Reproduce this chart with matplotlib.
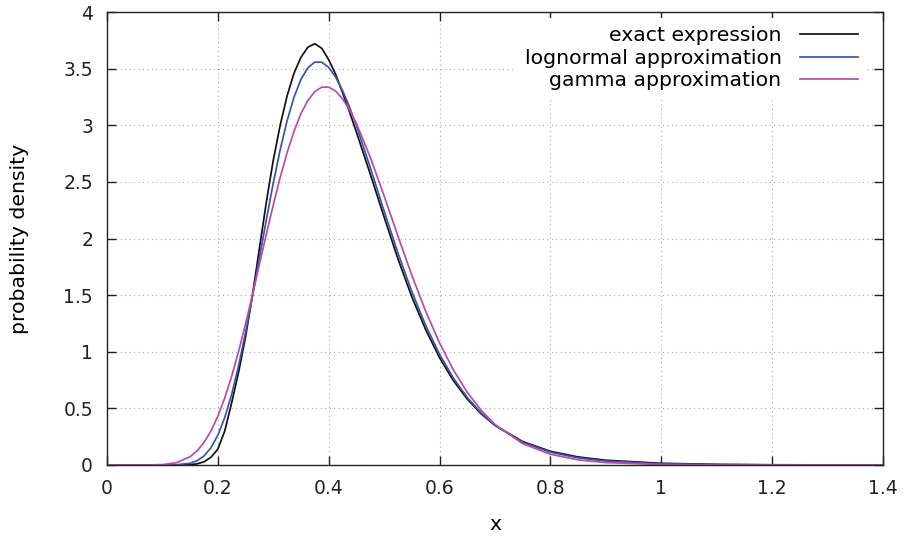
import matplotlib
matplotlib.use("Agg")
import matplotlib.pyplot as plt
from matplotlib.ticker import FormatStrFormatter, MultipleLocator


x = [0, 0.05, 0.075, 0.1, 0.125, 0.15, 0.1625, 0.175, 0.1875, 0.2, 0.2125, 0.225,
     0.2375, 0.25, 0.2625, 0.275, 0.2875, 0.3, 0.3125, 0.325, 0.3375, 0.35, 0.3625,
     0.375, 0.3875, 0.4, 0.4125, 0.425, 0.4375, 0.45, 0.475, 0.5, 0.525, 0.55, 0.575,
     0.6, 0.625, 0.65, 0.675, 0.7, 0.75, 0.8, 0.85, 0.9, 1.0, 1.1, 1.2, 1.3, 1.4]

exact = [0, 0, 0, 0, 0.0002, 0.003, 0.010, 0.028, 0.068, 0.14, 0.30, 0.55,
         0.82, 1.13, 1.50, 1.91, 2.32, 2.69, 3.00, 3.26, 3.46, 3.60, 3.69,
         3.72, 3.68, 3.58, 3.45, 3.29, 3.12, 2.94, 2.57, 2.19, 1.82, 1.485, 1.195,
         0.948, 0.745, 0.582, 0.452, 0.350, 0.207, 0.121, 0.071, 0.042, 0.015, 0.0055, 0.002, 0.0008, 0.0003]

lognormal = [0, 0, 0, 0.0001, 0.0015, 0.0153, 0.0374, 0.0797, 0.1518, 0.2627, 0.4190, 0.6238,
             0.8764, 1.1685, 1.4901, 1.827, 2.1651, 2.488, 2.7835, 3.040, 3.2484, 3.405, 3.508,
             3.558, 3.557, 3.511, 3.426, 3.307, 3.162, 2.9965, 2.628, 2.243, 1.872, 1.531, 1.233,
             0.978, 0.7675, 0.596, 0.4587, 0.3505, 0.2009, 0.1131, 0.0629, 0.0347, 0.0104, 0.0031, 0.0009, 0.0003, 0.0001]

gamma = [0, 0, 0.0003, 0.0034, 0.0196, 0.0728, 0.1242, 0.1983, 0.2992, 0.4300, 0.5917, 0.7836,
         1.0031, 1.2448, 1.5031, 1.7702, 2.0371, 2.2958, 2.5390, 2.7580, 2.9470, 3.1021, 3.2194,
         3.2976, 3.3362, 3.3369, 3.3017, 3.2341, 3.1373, 3.0163, 2.7188, 2.3767, 2.0211, 1.6760, 1.3584,
         1.0782, 0.8396, 0.6423, 0.4833, 0.3583, 0.1889, 0.0948, 0.0456, 0.0211, 0.0041, 0.0007, 0.0001, 0, 0]

labels = ["exact expression", "lognormal approximation", "gamma approximation"]
colors = ["#111111", "#3656ae", "#bd4aa6"]

plt.rcParams["font.family"] = "DejaVu Sans"
plt.rcParams["font.size"] = 14.7

fig = plt.figure(figsize=(9.08, 5.39), dpi=100)
ax = fig.add_axes([0.1178, 0.1373, 0.8546, 0.8404])

for ys, lab, col in zip([exact, lognormal, gamma], labels, colors):
    ax.plot(x, ys, color=col, lw=1.25, label=lab)

ax.set_xlim(0, 1.4)
ax.set_ylim(0, 4)
ax.xaxis.set_major_locator(MultipleLocator(0.2))
ax.yaxis.set_major_locator(MultipleLocator(0.5))
ax.xaxis.set_major_formatter(FormatStrFormatter("%g"))
ax.yaxis.set_major_formatter(FormatStrFormatter("%g"))

# gnuplot look: inward ticks on every side, dotted grey grid
ax.tick_params(direction="in", length=6.5, width=1, top=True, right=True, pad=10,
               labelsize=13.5, colors="#222222")
ax.grid(True, color="#999999", lw=0.8, linestyle=(0, (0.8, 3.2)))
for s in ax.spines.values():
    s.set_linewidth(1)
    s.set_color("#222222")

ax.set_xlabel("x", labelpad=12.5)
ax.set_ylabel("probability density", labelpad=25)

# legend: text right-aligned, sample line after the text, grid hidden behind
leg = ax.legend(loc="upper right", bbox_to_anchor=(0.978, 0.987), borderaxespad=0,
                markerfirst=False, frameon=True, fancybox=False,
                edgecolor="none", facecolor="white", framealpha=1,
                handlelength=2.85, handletextpad=0.88, labelspacing=0.18,
                borderpad=0.4, fontsize=14.7)

fig.savefig("out.png", dpi=100)
